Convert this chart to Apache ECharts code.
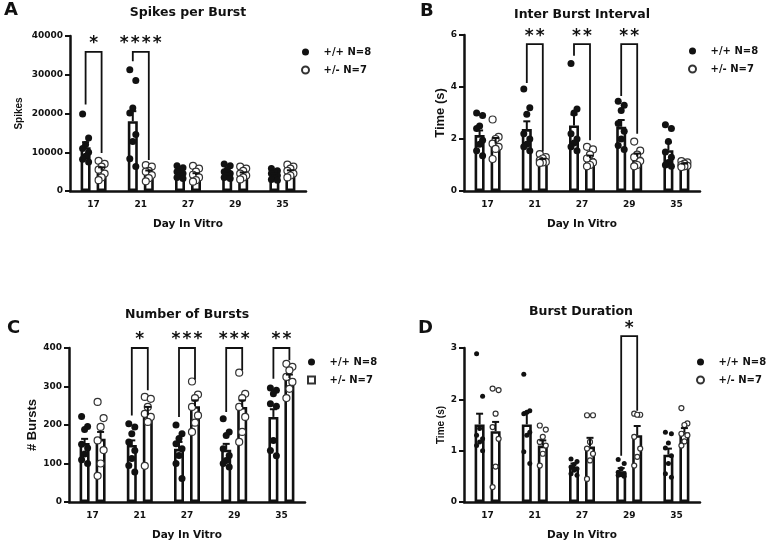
<!DOCTYPE html>
<html>
<head>
<meta charset="utf-8">
<title>Burst measures by day in vitro</title>
<script src="https://cdn.jsdelivr.net/npm/echarts@6/dist/echarts.min.js"></script>
<style>
html, body { margin: 0; padding: 0; background: #fff; }
#chart { width: 768px; height: 546px; }
</style>
</head>
<body>
<div id="chart"></div>
<script>
const days = ['17', '21', '27', '29', '35'];
const WT = '+/+ N=8';
const HET = '+/- N=7';

// A - spikes per burst
const spikesWtMean = [11300, 18000, 4600, 4800, 4100];
const spikesWtSem = [1300, 2600, 400, 450, 350];
const spikesHetMean = [5300, 4800, 4100, 4400, 4900];
const spikesHetSem = [800, 500, 500, 400, 450];
const spikesWtPts = [
  [19900, 13700, 12000, 11000, 10000, 9000, 8200, 7500],
  [31300, 28500, 21400, 20100, 14600, 12800, 8300, 6300],
  [6500, 6000, 5500, 5000, 4500, 4000, 3500, 3200],
  [7000, 6500, 5500, 5000, 4500, 4000, 3500, 3200],
  [5800, 5200, 4800, 4500, 4000, 3500, 3000, 2800]
];
const spikesHetPts = [
  [7800, 7000, 6300, 5500, 4500, 3500, 2800],
  [6700, 6300, 5200, 5000, 4100, 3300, 2500],
  [6500, 5800, 5000, 4200, 3500, 2800, 2400],
  [6300, 5800, 5200, 4500, 4000, 3500, 3000],
  [6800, 6300, 5800, 5200, 4500, 4000, 3500]
];
// [day index, left leg end, bracket top, right leg end, stars]
const spikesSig = [[0, 22300, 35900, 9800, 1], [1, 33500, 35900, 8000, 4]];

// B - inter burst interval (s)
const ibiWtMean = [2.15, 2.38, 2.52, 2.47, 1.57];
const ibiWtSem = [0.18, 0.3, 0.42, 0.26, 0.3];
const ibiHetMean = [1.82, 1.19, 1.26, 1.32, 1.02];
const ibiHetSem = [0.22, 0.05, 0.1, 0.12, 0.04];
const ibiWtPts = [
  [3.0, 2.9, 2.5, 2.4, 1.95, 1.8, 1.55, 1.36],
  [3.92, 3.2, 2.95, 2.2, 2.0, 1.8, 1.7, 1.55],
  [4.9, 3.15, 3.0, 2.2, 2.0, 1.85, 1.7, 1.55],
  [3.45, 3.3, 3.1, 2.6, 2.3, 2.0, 1.75, 1.6],
  [2.55, 2.4, 1.9, 1.5, 1.3, 1.1, 1.0, 0.95]
];
const ibiHetPts = [
  [2.75, 2.08, 2.0, 1.82, 1.7, 1.62, 1.23],
  [1.42, 1.3, 1.25, 1.18, 1.12, 1.1, 1.08],
  [1.7, 1.6, 1.4, 1.25, 1.1, 1.0, 0.95],
  [1.9, 1.55, 1.4, 1.3, 1.15, 1.0, 0.95],
  [1.15, 1.1, 1.05, 1.0, 0.97, 0.95, 0.92]
];
const ibiSig = [[1, 4.15, 5.65, 1.52, 2], [2, 5.2, 5.65, 1.95, 2], [3, 3.65, 5.65, 2.2, 2]];

// C - number of bursts
const countWtMean = [153, 148, 138, 136, 221];
const countWtSem = [11, 12, 18, 15, 20];
const countHetMean = [164, 225, 249, 247, 322];
const countHetSem = [18, 22, 15, 17, 9];
const countWtPts = [
  [222, 196, 188, 150, 140, 125, 110, 100],
  [203, 195, 177, 156, 134, 113, 95, 78],
  [200, 177, 165, 151, 138, 121, 100, 61],
  [216, 182, 173, 138, 121, 108, 100, 91],
  [296, 290, 281, 255, 249, 160, 134, 120]
];
const countHetPts = [
  [260, 218, 195, 160, 135, 100, 68],
  [273, 268, 247, 229, 221, 208, 94],
  [313, 279, 270, 247, 225, 206, 182],
  [336, 281, 270, 247, 221, 182, 156],
  [359, 351, 342, 325, 312, 294, 270]
];
const countSig = [[1, 225, 400, 290, 1], [2, 221, 400, 318, 3], [3, 234, 400, 342, 3], [4, 320, 400, 368, 2]];

// D - burst duration (s)
const durWtMean = [1.51, 1.51, 0.68, 0.60, 0.92];
const durWtSem = [0.21, 0.24, 0.07, 0.06, 0.12];
const durHetMean = [1.38, 1.10, 1.08, 1.30, 1.36];
const durHetSem = [0.18, 0.1, 0.17, 0.18, 0.08];
const durWtPts = [
  [2.89, 2.06, 1.43, 1.3, 1.23, 1.17, 1.1, 1.0],
  [2.49, 1.78, 1.75, 1.72, 1.36, 1.3, 0.98, 0.75],
  [0.84, 0.79, 0.73, 0.68, 0.65, 0.62, 0.55, 0.52],
  [0.83, 0.75, 0.65, 0.58, 0.55, 0.53, 0.52, 0.5],
  [1.36, 1.33, 1.15, 1.05, 0.9, 0.75, 0.55, 0.48]
];
const durHetPts = [
  [2.21, 2.18, 1.72, 1.46, 1.23, 0.69, 0.29],
  [1.49, 1.41, 1.27, 1.17, 1.1, 0.94, 0.71],
  [1.69, 1.69, 1.17, 1.04, 0.94, 0.81, 0.45],
  [1.72, 1.7, 1.7, 1.27, 1.04, 0.88, 0.71],
  [1.83, 1.53, 1.5, 1.33, 1.3, 1.18, 1.1]
];
const durSig = [[3, 0.9, 3.23, 1.78, 1]];

const INK = '#111';
const FONT = '"DejaVu Sans", sans-serif';
const jitter = [-3, 3, 0, -3, 3, 0, -3, 3];

const panels = [
  { letter: 'A', lx: 4, ly: 10, title: 'Spikes per Burst', tx: 188, ty: 13,
    yName: 'Spikes', yNameSize: 10, yNameGap: 46, max: 40000, step: 10000,
    left: 70, top: 36, height: 155, dot: 7, legLeft: 296, legTop: 42, hetIcon: 'circle',
    wtMean: spikesWtMean, wtSem: spikesWtSem, hetMean: spikesHetMean, hetSem: spikesHetSem,
    wtPts: spikesWtPts, hetPts: spikesHetPts, sig: spikesSig },
  { letter: 'B', lx: 420, ly: 11, title: 'Inter Burst Interval', tx: 582, ty: 15,
    yName: 'Time (s)', yNameSize: 13, yNameGap: 14, max: 6, step: 2,
    left: 464, top: 35, height: 156, dot: 7, legLeft: 683, legTop: 41, hetIcon: 'circle',
    wtMean: ibiWtMean, wtSem: ibiWtSem, hetMean: ibiHetMean, hetSem: ibiHetSem,
    wtPts: ibiWtPts, hetPts: ibiHetPts, sig: ibiSig },
  { letter: 'C', lx: 7, ly: 328, title: 'Number of Bursts', tx: 187, ty: 315,
    yName: '# Bursts', yNameSize: 13, yNameGap: 27, max: 400, step: 100,
    left: 69, top: 348, height: 154, dot: 7, legLeft: 302, legTop: 352, hetIcon: 'path://M0,0H10V10H0Z',
    wtMean: countWtMean, wtSem: countWtSem, hetMean: countHetMean, hetSem: countHetSem,
    wtPts: countWtPts, hetPts: countHetPts, sig: countSig },
  { letter: 'D', lx: 418, ly: 328, title: 'Burst Duration', tx: 581, ty: 312,
    yName: 'Time (s)', yNameSize: 10, yNameGap: 18, max: 3, step: 1,
    left: 464, top: 348, height: 154, dot: 5, legLeft: 691, legTop: 352, hetIcon: 'circle',
    wtMean: durWtMean, wtSem: durWtSem, hetMean: durHetMean, hetSem: durHetSem,
    wtPts: durWtPts, hetPts: durHetPts, sig: durSig }
];

function scatterData(groups, dx) {
  return groups.flatMap((vals, c) => vals.map((v, k) => ({ value: [c, v], symbolOffset: [dx + jitter[k], 0] })));
}

function errorBar(dx) {
  return function (params, api) {
    const c = api.value(0);
    const m = api.value(1);
    const p0 = api.coord([c, m]);
    const p1 = api.coord([c, m + api.value(2)]);
    const x = p0[0] + dx;
    return {
      type: 'group',
      children: [
        { type: 'line', shape: { x1: x, y1: p0[1], x2: x, y2: p1[1] }, style: { stroke: INK, lineWidth: 2 } },
        { type: 'line', shape: { x1: x - 3.5, y1: p1[1], x2: x + 3.5, y2: p1[1] }, style: { stroke: INK, lineWidth: 2 } }
      ]
    };
  };
}

function bracket(params, api) {
  const c = api.value(0);
  const pl = api.coord([c, api.value(1)]);
  const pt = api.coord([c, api.value(2)]);
  const pr = api.coord([c, api.value(3)]);
  const n = api.value(4);
  const xl = pt[0] - 8, xr = pt[0] + 8;
  const children = [{
    type: 'polyline',
    shape: { points: [[xl, pl[1]], [xl, pt[1]], [xr, pt[1]], [xr, pr[1]]] },
    style: { stroke: INK, lineWidth: 1.8, fill: 'none' }
  }];
  for (let k = 0; k < n; k++) {
    children.push({
      type: 'text',
      x: pt[0] + (k - (n - 1) / 2) * 11,
      y: pt[1] - 8,
      style: { text: '*', font: 'bold 17px ' + FONT, fill: INK, align: 'center', verticalAlign: 'middle' }
    });
  }
  return { type: 'group', children };
}

const option = { animation: false, grid: [], xAxis: [], yAxis: [], series: [], legend: [], graphic: [] };

panels.forEach((p, i) => {
  option.grid.push({ left: p.left, top: p.top, width: 236, height: p.height });
  option.xAxis.push({
    type: 'category', gridIndex: i, data: days,
    name: 'Day In Vitro', nameLocation: 'middle', nameGap: 28,
    nameTextStyle: { fontFamily: FONT, fontWeight: 'bold', fontSize: 10.5, color: INK },
    axisLine: { lineStyle: { color: INK, width: 2.5 } },
    axisTick: { alignWithLabel: true, length: 5, lineStyle: { color: INK, width: 2 } },
    axisLabel: { fontFamily: FONT, fontWeight: 'bold', fontSize: 9, color: INK, margin: 9 }
  });
  option.yAxis.push({
    type: 'value', gridIndex: i, min: 0, max: p.max, interval: p.step,
    name: p.yName, nameLocation: 'middle', nameRotate: 90, nameGap: p.yNameGap,
    nameTextStyle: { fontFamily: '"Liberation Sans", Arial, sans-serif', fontWeight: 'bold', fontSize: p.yNameSize, color: INK },
    axisLine: { show: true, lineStyle: { color: INK, width: 2.5 } },
    axisTick: { show: true, length: 5, lineStyle: { color: INK, width: 2 } },
    splitLine: { show: false },
    axisLabel: { fontFamily: FONT, fontWeight: 'bold', fontSize: 9, color: INK, margin: 7, formatter: v => String(v) }
  });
  const barStyle = { color: '#fff', borderColor: INK, borderWidth: 2.6 };
  option.series.push(
    { type: 'bar', name: 'wt mean', xAxisIndex: i, yAxisIndex: i, data: p.wtMean, barWidth: 10, barGap: '60%', itemStyle: barStyle, silent: true, z: 2 },
    { type: 'bar', name: 'het mean', xAxisIndex: i, yAxisIndex: i, data: p.hetMean, barWidth: 10, barGap: '60%', itemStyle: barStyle, silent: true, z: 2 },
    { type: 'scatter', name: WT, xAxisIndex: i, yAxisIndex: i, symbolSize: p.dot, itemStyle: { color: INK, opacity: 1 },
      data: scatterData(p.wtPts, -8), z: 4 },
    { type: 'scatter', name: HET, xAxisIndex: i, yAxisIndex: i, symbolSize: p.dot,
      itemStyle: { color: '#fff', borderColor: '#333', borderWidth: 1.2, opacity: 1 },
      data: scatterData(p.hetPts, 8), z: 4 },
    { type: 'custom', name: 'wt sem', xAxisIndex: i, yAxisIndex: i, renderItem: errorBar(-8), silent: true, z: 5,
      data: p.wtMean.map((m, c) => [c, m, p.wtSem[c]]) },
    { type: 'custom', name: 'het sem', xAxisIndex: i, yAxisIndex: i, renderItem: errorBar(8), silent: true, z: 5,
      data: p.hetMean.map((m, c) => [c, m, p.hetSem[c]]) },
    { type: 'custom', name: 'sig', xAxisIndex: i, yAxisIndex: i, renderItem: bracket, silent: true, clip: false, z: 6,
      data: p.sig }
  );
  option.legend.push({
    orient: 'vertical', left: p.legLeft, top: p.legTop, itemWidth: 26, itemHeight: 7, itemGap: 8,
    selectedMode: false, symbolKeepAspect: true,
    data: [{ name: WT, icon: 'circle' }, { name: HET, icon: p.hetIcon }],
    textStyle: { fontFamily: FONT, fontWeight: 'bold', fontSize: 10, color: INK }
  });
  option.graphic.push(
    { type: 'text', x: p.lx, y: p.ly, style: { text: p.letter, font: 'bold 18px ' + FONT, fill: INK, align: 'left', verticalAlign: 'middle' } },
    { type: 'text', x: p.tx, y: p.ty, style: { text: p.title, font: 'bold 12.5px ' + FONT, fill: INK, align: 'center', verticalAlign: 'middle' } }
  );
});

const chart = echarts.init(document.getElementById('chart'), null, { renderer: 'canvas' });
chart.setOption(option);
</script>
</body>
</html>
